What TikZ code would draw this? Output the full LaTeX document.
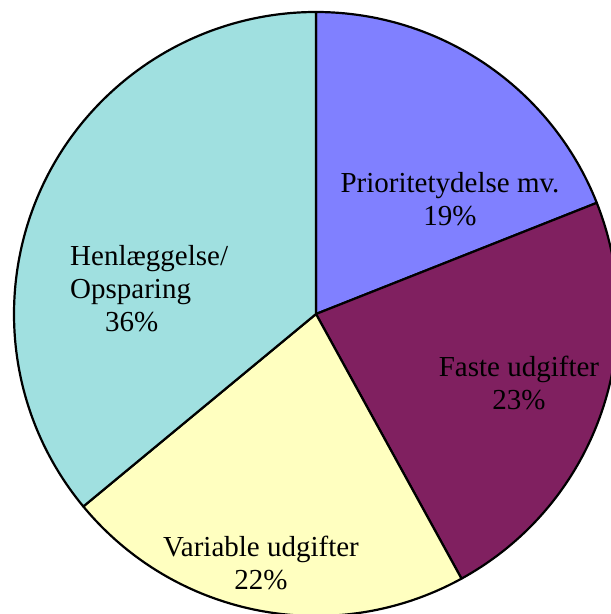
\documentclass[tikz,border=0pt]{standalone}
\usepackage{fontspec}
\setmainfont{Liberation Serif}
\definecolor{prio}{RGB}{128,128,255}
\definecolor{faste}{RGB}{128,32,96}
\definecolor{variabel}{RGB}{255,255,192}
\definecolor{henl}{RGB}{160,224,224}
\begin{document}
\begin{tikzpicture}[x=1pt, y=1pt,
    slice/.style = {draw = black, line width = 2.2pt, line join = round},
    lbl/.style = {font = \fontsize{29}{33}\selectfont, align = center, inner sep = 0pt}]
    \useasboundingbox (0,0) rectangle (611,614);
    \clip (0,0) rectangle (611,614);
    \begin{scope}[shift = {(316,300)}]
        \fill[prio, slice] (0,0) -- (90:302) arc[start angle = 90, end angle = 21.6, radius = 302] -- cycle;
        \fill[faste, slice] (0,0) -- (21.6:302) arc[start angle = 21.6, end angle = -61.2, radius = 302] -- cycle;
        \fill[variabel, slice] (0,0) -- (-61.2:302) arc[start angle = -61.2, end angle = -140.4, radius = 302] -- cycle;
        \fill[henl, slice] (0,0) -- (-140.4:302) arc[start angle = -140.4, end angle = -270, radius = 302] -- cycle;
    \end{scope}

    \node[lbl] (P) at (450,415) {Prioritetydelse mv.\\19\%};
    \node[lbl] (F) at (519,231) {Faste udgifter\\23\%};
    \node[lbl] (V) at (261,51) {Variable udgifter\\22\%};
    \node[lbl, align = left, anchor = west] (H) at (70,325) {Henlæggelse/\\Opsparing\\\hspace*{35pt}36\%};
\end{tikzpicture}
\end{document}
